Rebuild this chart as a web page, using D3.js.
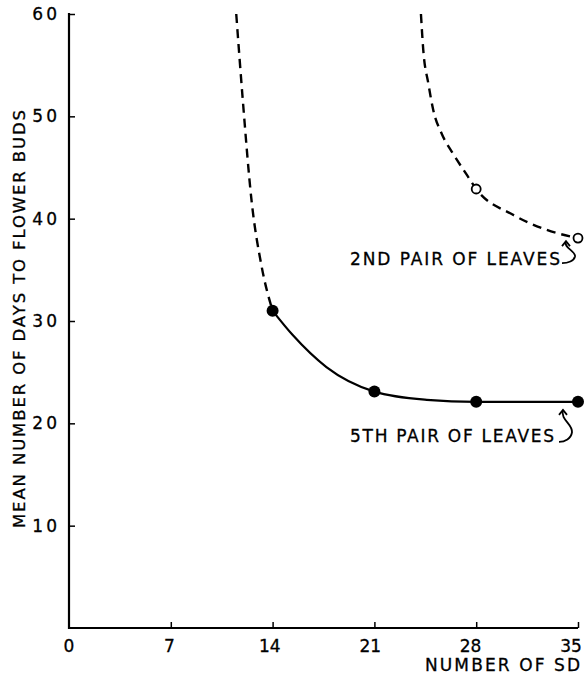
<!DOCTYPE html>
<html><head><meta charset="utf-8">
<script src="https://cdn.jsdelivr.net/npm/d3@7"></script>
<style>html,body{margin:0;padding:0;background:#fff;}svg{display:block;}</style>
</head><body>
<svg id="c" width="587" height="677"></svg>
<script>
// ---- data ----
const xTicks = [0, 7, 14, 21, 28, 35];
const yTicks = [10, 20, 30, 40, 50, 60];
const fifthPairPoints = [[14, 31], [21, 23.1], [28, 22.1], [35, 22.1]];
const fifthPairSolidTrace = [[14, 31], [15.4, 28.6], [17.7, 25.5], [21, 23.1], [24.6, 22.3], [28, 22.1], [35, 22.1]];
const fifthPairDashedTrace = [[11.5, 60], [11.95, 51.6], [12.55, 41.8], [13.25, 35.3], [14, 31]];
const secondPairPoints = [[28, 42.9], [35, 38.1]];
const secondPairDashedTrace = [[24.2, 60], [24.36, 56.5], [24.71, 53.2], [25.05, 50.6], [25.63, 48.3], [26.43, 46.3], [27.3, 44.4], [28, 42.9], [30.5, 40.4], [32.85, 38.9], [35, 38.1]];
const labels = { x: "NUMBER OF SD", y: "MEAN NUMBER OF DAYS TO FLOWER BUDS", second: "2ND PAIR OF LEAVES", fifth: "5TH PAIR OF LEAVES" };

// ---- scales ----
const svg = d3.select("#c");
const x = d3.scaleLinear().domain([0, 35]).range([69, 578]);
const y = d3.scaleLinear().domain([0, 60]).range([628, 14]);
const font = "'DejaVu Sans', sans-serif";

// axes
const xAxis = svg.append("g").attr("transform", `translate(0,${y(0)})`)
  .call(d3.axisTop(x).tickValues(xTicks.slice(1)).tickSize(6).tickFormat(""));
xAxis.select(".domain").attr("d", `M${x(0) - 1},0H${x(35)}`).attr("stroke-width", 2.2);
xAxis.selectAll(".tick line").attr("stroke-width", 1.5);

const yAxis = svg.append("g").attr("transform", `translate(${x(0)},0)`)
  .call(d3.axisRight(y).tickValues(yTicks).tickSize(6).tickFormat(""));
yAxis.select(".domain").attr("d", `M0,${y(60) - 1}V${y(0) + 1}`).attr("stroke-width", 2.2);
yAxis.selectAll(".tick line").attr("stroke-width", 1.5);

// tick labels (hand-lettered labels drift slightly left of their ticks)
const xLabelShift = d3.scaleLinear().domain([0, 35]).range([0, -7]);
svg.append("g").selectAll("text").data(xTicks).join("text")
  .attr("x", d => x(d) + xLabelShift(d)).attr("y", y(0) + 24)
  .attr("text-anchor", "middle").attr("font-family", font).attr("font-size", 17)
  .attr("stroke", "#000").attr("stroke-width", 0.3)
  .text(d => d);
svg.append("g").selectAll("text").data(yTicks).join("text")
  .attr("x", x(0) - 9).attr("y", d => y(d) + 6)
  .attr("text-anchor", "end").attr("font-family", font).attr("font-size", 17)
  .attr("letter-spacing", 3).attr("stroke", "#000").attr("stroke-width", 0.3)
  .text(d => d);

// axis titles
svg.append("text").attr("x", 425).attr("y", 671)
  .attr("font-family", font).attr("font-size", 17).attr("stroke", "#000").attr("stroke-width", 0.3)
  .attr("textLength", 155).attr("lengthAdjust", "spacing").text(labels.x);
svg.append("text").attr("transform", `translate(25,${(110 + 528) / 2}) rotate(-90)`)
  .attr("text-anchor", "middle").attr("font-family", font).attr("font-size", 16.5)
  .attr("stroke", "#000").attr("stroke-width", 0.3)
  .attr("textLength", 418).attr("lengthAdjust", "spacing").text(labels.y);

// curves
const line = d3.line().x(d => x(d[0])).y(d => y(d[1])).curve(d3.curveMonotoneX);
svg.append("path").datum(fifthPairDashedTrace).attr("d", line)
  .attr("fill", "none").attr("stroke", "#000").attr("stroke-width", 2.4).attr("stroke-dasharray", "9,6");
svg.append("path").datum(fifthPairSolidTrace).attr("d", line)
  .attr("fill", "none").attr("stroke", "#000").attr("stroke-width", 2.2);
svg.append("path").datum(secondPairDashedTrace).attr("d", line)
  .attr("fill", "none").attr("stroke", "#000").attr("stroke-width", 2.4).attr("stroke-dasharray", "9,6");

// points
svg.append("g").selectAll("circle").data(fifthPairPoints).join("circle")
  .attr("cx", d => x(d[0])).attr("cy", d => y(d[1])).attr("r", 6).attr("fill", "#000");
svg.append("g").selectAll("circle").data(secondPairPoints).join("circle")
  .attr("cx", d => x(d[0])).attr("cy", d => y(d[1])).attr("r", 4.5)
  .attr("fill", "#fff").attr("stroke", "#000").attr("stroke-width", 1.8);

// series labels with squiggle arrows
function squiggle(px, py, dxTip, dyTip, h) {
  const tx = px + dxTip, ty = py + dyTip;
  const g = svg.append("g").attr("fill", "none").attr("stroke", "#000").attr("stroke-width", 1.8);
  g.append("path").attr("d",
    `M${tx},${ty} C${tx - 3},${ty + h * 0.3} ${tx + 10},${ty + h * 0.45} ${tx + 9},${ty + h * 0.7}` +
    ` C${tx + 8},${ty + h * 0.9} ${tx + 2},${ty + h} ${tx - 4},${ty + h}`);
  g.append("path").attr("d", `M${tx - 4},${ty + 5} L${tx},${ty} L${tx + 4},${ty + 5}`);
}
const p2 = secondPairPoints[1], p5 = fifthPairPoints[3];
svg.append("text").attr("x", 350).attr("y", y(p2[1]) + 27)
  .attr("font-family", font).attr("font-size", 17).attr("stroke", "#000").attr("stroke-width", 0.3)
  .attr("textLength", 210).attr("lengthAdjust", "spacing").text(labels.second);
squiggle(x(p2[0]), y(p2[1]), -12, 3, 22);
svg.append("text").attr("x", 350).attr("y", y(p5[1]) + 40)
  .attr("font-family", font).attr("font-size", 17).attr("stroke", "#000").attr("stroke-width", 0.3)
  .attr("textLength", 204).attr("lengthAdjust", "spacing").text(labels.fifth);
squiggle(x(p5[0]), y(p5[1]), -15, 8, 32);
</script>
</body></html>
